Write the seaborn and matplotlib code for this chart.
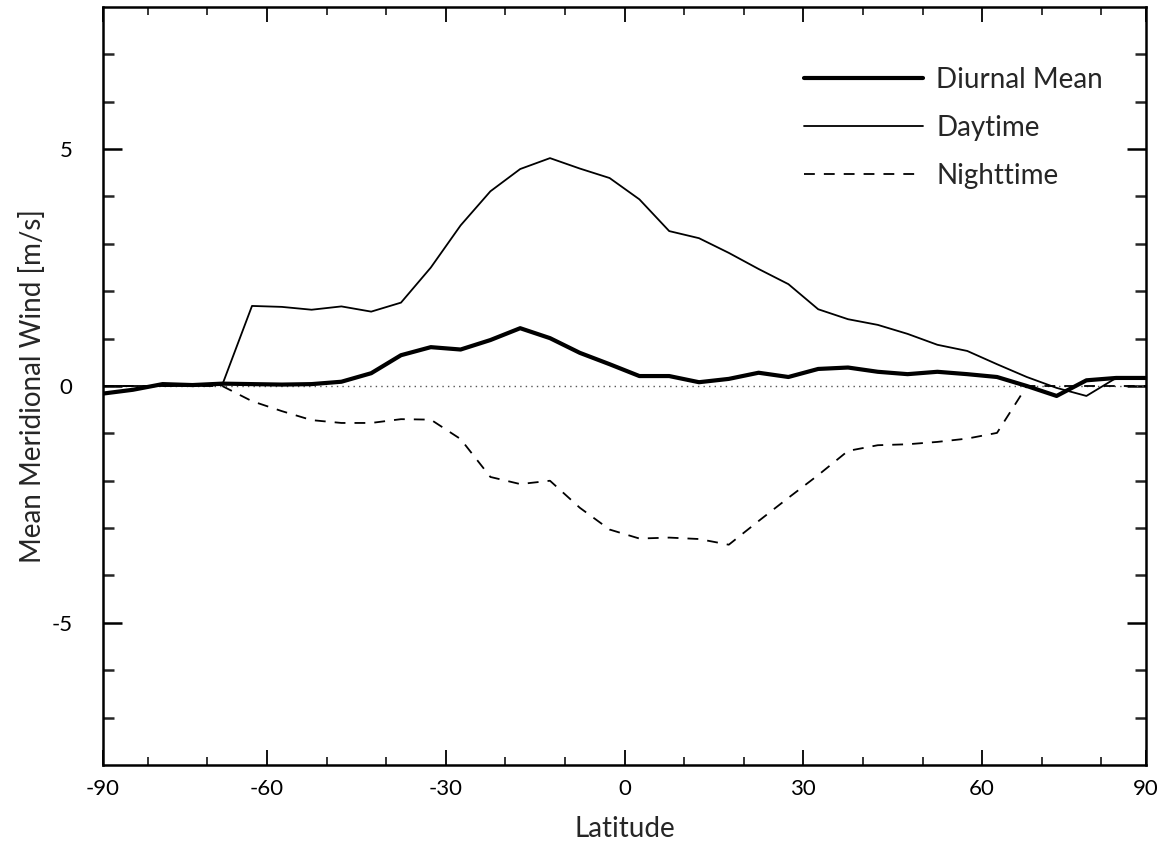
import numpy as np
import pandas as pd
import matplotlib
matplotlib.use("Agg")
import matplotlib.pyplot as plt
import seaborn as sns

latitude = [-87.5, -82.5, -77.5, -72.5, -67.5, -62.5, -57.5, -52.5, -47.5, -42.5,
            -37.5, -32.5, -27.5, -22.5, -17.5, -12.5, -7.5, -2.5, 2.5, 7.5,
            12.5, 17.5, 22.5, 27.5, 32.5, 37.5, 42.5, 47.5, 52.5, 57.5,
            62.5, 67.5, 72.5, 77.5, 82.5, 87.5]

diurnal_mean = [-0.16, -0.08, 0.04, 0.02, 0.05, 0.04, 0.03, 0.04, 0.09, 0.27,
                0.65, 0.82, 0.77, 0.97, 1.22, 1.01, 0.70, 0.46, 0.21, 0.21,
                0.08, 0.15, 0.28, 0.19, 0.36, 0.39, 0.30, 0.25, 0.30, 0.25,
                0.19, 0.00, -0.21, 0.12, 0.17, 0.17]

daytime = [0.0, 0.0, 0.0, 0.0, 0.02, 1.69, 1.67, 1.61, 1.68, 1.57,
           1.76, 2.50, 3.39, 4.11, 4.58, 4.81, 4.59, 4.39, 3.94, 3.27,
           3.12, 2.81, 2.47, 2.15, 1.62, 1.41, 1.29, 1.10, 0.87, 0.74,
           0.46, 0.19, -0.04, -0.21, 0.17, 0.17]

nighttime = [0.0, 0.0, 0.0, 0.0, 0.0, -0.32, -0.53, -0.72, -0.78, -0.78,
             -0.70, -0.71, -1.12, -1.92, -2.07, -2.00, -2.57, -3.03, -3.22, -3.20,
             -3.23, -3.35, -2.85, -2.36, -1.88, -1.37, -1.25, -1.23, -1.18, -1.11,
             -0.99, 0.0, 0.0, 0.0, 0.0, 0.0]

xtick_pos = [-87.5, -60, -30, 0, 30, 60, 87.5]
xtick_labels = ["-90", "-60", "-30", "0", "30", "60", "90"]
xminor_pos = [-80, -70, -50, -40, -20, -10, 10, 20, 40, 50, 70, 80]
ytick_pos = [-5, 0, 5]
yminor_pos = [-7, -6, -4, -3, -2, -1, 1, 2, 3, 4, 6, 7]

df = pd.DataFrame({"lat": latitude, "mean": diurnal_mean,
                   "day": daytime, "night": nighttime})

sns.set_theme(style="white")
plt.rcParams['font.family'] = ['Lato', 'DejaVu Sans']

fig = plt.figure(figsize=(11.71, 8.47), dpi=100)
ax = fig.add_axes([103/1171, 1-765/847, (1146-103)/1171, (765-7)/847])

ax.axhline(0, color="#555555", lw=1.0, ls=(0, (1, 3)), zorder=1)

sns.lineplot(data=df, x="lat", y="night", ax=ax, color="black", lw=1.3,
             dashes=False, label="Nighttime", zorder=2)
ax.lines[-1].set_linestyle((0, (6, 5)))
sns.lineplot(data=df, x="lat", y="day", ax=ax, color="black", lw=1.3,
             label="Daytime", zorder=3)
sns.lineplot(data=df, x="lat", y="mean", ax=ax, color="black", lw=3.0,
             label="Diurnal Mean", zorder=4)

ax.set_xlim(-87.5, 87.5)
ax.set_ylim(-8, 8)
ax.set_xticks(xtick_pos)
ax.set_xticklabels(xtick_labels)
ax.set_xticks(xminor_pos, minor=True)
ax.set_yticks(ytick_pos)
ax.set_yticklabels([str(v) for v in ytick_pos])
ax.set_yticks(yminor_pos, minor=True)

ax.tick_params(axis="x", which="major", direction="in", length=11, width=1.3,
               top=True, bottom=True, labelsize=16, pad=10, colors="black")
ax.tick_params(axis="x", which="minor", direction="in", length=6, width=1.3,
               top=True, bottom=True)
ax.tick_params(axis="y", which="major", direction="in", length=14, width=1.8,
               left=True, right=True, labelsize=16, pad=22, colors="black")
ax.tick_params(axis="y", which="minor", direction="in", length=8, width=1.8,
               left=True, right=True)

for s in ax.spines.values():
    s.set_color("black")
    s.set_linewidth(1.8)

ax.set_xlabel("Latitude", fontsize=20, labelpad=12)
ax.set_ylabel("Mean Meridional Wind [m/s]", fontsize=20, labelpad=4)

handles, labels = ax.get_legend_handles_labels()
order = [labels.index(n) for n in ["Diurnal Mean", "Daytime", "Nighttime"]]
leg = ax.legend([handles[i] for i in order], [labels[i] for i in order],
                loc="upper left", bbox_to_anchor=(0.661, 0.936), frameon=False,
                fontsize=20, handlelength=4.3, handletextpad=0.47,
                labelspacing=0.8, borderaxespad=0.0)

fig.savefig("out.png", dpi=100)
